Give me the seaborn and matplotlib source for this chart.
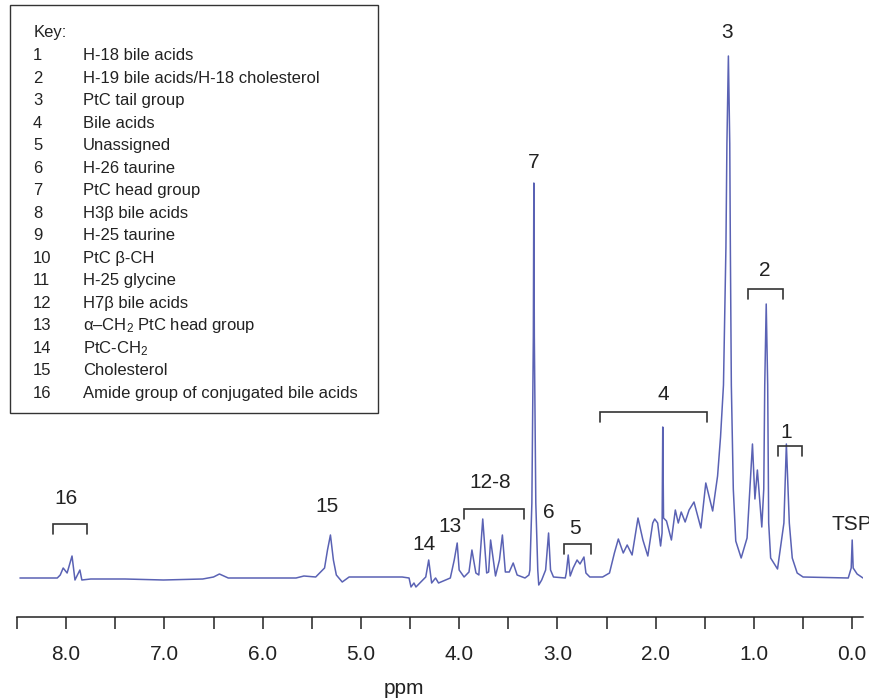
import matplotlib
matplotlib.use("Agg")
import matplotlib.pyplot as plt
import seaborn as sns
import pandas as pd
from matplotlib.patches import Rectangle

# ---------------- data ----------------
# spectrum trace: chemical shift (ppm) and intensity (arbitrary units)
ppm = [8.47, 8.09, 8.06, 8.03, 7.99, 7.94, 7.91, 7.86, 7.84, 7.75, 7.40, 7.01,
       6.61, 6.50, 6.44, 6.35, 5.66, 5.58, 5.46, 5.37, 5.34, 5.31, 5.28, 5.25,
       5.19, 5.12, 4.58, 4.51, 4.49, 4.46, 4.44, 4.39, 4.34, 4.31, 4.28, 4.24,
       4.21, 4.09, 4.05, 4.02, 4.00, 3.95, 3.90, 3.87, 3.83, 3.80, 3.76, 3.72,
       3.70, 3.68, 3.63, 3.59, 3.56, 3.53, 3.49, 3.45, 3.41, 3.33, 3.29, 3.28,
       3.26, 3.245, 3.24, 3.235, 3.22, 3.20, 3.19, 3.16, 3.12, 3.09, 3.07, 3.04,
       2.92, 2.91, 2.89, 2.87, 2.84, 2.80, 2.77, 2.73, 2.71, 2.67, 2.54, 2.47,
       2.42, 2.38, 2.33, 2.29, 2.24, 2.18, 2.13, 2.08, 2.03, 2.01, 1.98, 1.95,
       1.935, 1.928, 1.92, 1.89, 1.84, 1.80, 1.77, 1.74, 1.70, 1.66, 1.61, 1.54,
       1.49, 1.42, 1.37, 1.34, 1.31, 1.285, 1.275, 1.26, 1.246, 1.24, 1.23, 1.21,
       1.185, 1.13, 1.07, 1.015, 0.99, 0.965, 0.92, 0.90, 0.89, 0.875, 0.86, 0.85,
       0.83, 0.76, 0.695, 0.67, 0.64, 0.61, 0.56, 0.50, 0.04, 0.01, 0.0, -0.01,
       -0.05, -0.11]
intensity = [0, 0, 3, 10, 5, 22, -2, 8, -2, -1, -1, -2,
             -1, 1, 4, 0, 0, 2, 1, 10, 28, 43, 18, 3,
             -4, 1, 1, 0, -9, -5, -9, -4, 1, 18, -5, 0,
             -5, 0, 18, 35, 8, 1, 6, 28, 5, 3, 59, 5,
             6, 38, 2, 18, 43, 6, 6, 15, 3, 0, 3, 8,
             75, 242, 395, 242, 75, 8, -7, -2, 8, 45, 8, 1,
             0, 5, 23, 2, 10, 18, 14, 21, 5, 1, 1, 5,
             25, 39, 25, 33, 23, 60, 38, 22, 55, 59, 55, 32,
             45, 151, 60, 57, 38, 68, 55, 66, 56, 68, 76, 50,
             95, 67, 102, 141, 193, 331, 434, 522, 434, 331, 193, 89,
             37, 20, 40, 134, 79, 108, 51, 89, 193, 274, 193, 55,
             20, 9, 55, 134, 55, 20, 5, 1, 0, 10, 38, 10,
             4, 0]

# key entries
key_numbers = ["1", "2", "3", "4", "5", "6", "7", "8", "9", "10", "11", "12",
               "13", "14", "15", "16"]
key_labels = ["H-18 bile acids",
              "H-19 bile acids/H-18 cholesterol",
              "PtC tail group",
              "Bile acids",
              "Unassigned",
              "H-26 taurine",
              "PtC head group",
              "H3\u03b2 bile acids",
              "H-25 taurine",
              "PtC \u03b2-CH",
              "H-25 glycine",
              "H7\u03b2 bile acids",
              "\u03b1\u2013CH$_2$ PtC head group",
              "PtC-CH$_2$",
              "Cholesterol",
              "Amide group of conjugated bile acids"]

# peak labels: text, ppm, intensity level
peak_label_text = ["16", "15", "14", "13", "12-8", "7", "6", "5", "4", "3", "2", "1", "TSP"]
peak_label_ppm = [8.0, 5.34, 4.36, 4.09, 3.68, 3.24, 3.09, 2.82, 1.92, 1.27, 0.885, 0.67, 0.0]
peak_label_level = [79, 72, 33, 51, 96, 416, 66, 50, 183, 545, 307, 146, 53]

# brackets grouping regions: start ppm, end ppm, level
bracket_start = [8.13, 3.95, 2.93, 2.57, 1.06, 0.76]
bracket_end = [7.79, 3.34, 2.66, 1.48, 0.70, 0.51]
bracket_level = [54, 69, 34, 166, 289, 132]

tick_major = [8, 7, 6, 5, 4, 3, 2, 1, 0]
tick_minor = [8.5, 7.5, 6.5, 5.5, 4.5, 3.5, 2.5, 1.5, 0.5]
tick_labels = ["8.0", "7.0", "6.0", "5.0", "4.0", "3.0", "2.0", "1.0", "0.0"]

# ---------------- styling ----------------
sns.set_theme(style="white")
plt.rcParams["font.family"] = ["Liberation Sans", "DejaVu Sans"]
plt.rcParams["mathtext.fontset"] = "custom"
plt.rcParams["mathtext.rm"] = "Liberation Sans"
plt.rcParams["mathtext.it"] = "Liberation Sans:italic"
plt.rcParams["mathtext.default"] = "regular"

W, H = 869, 700
fig = plt.figure(figsize=(W / 100, H / 100), dpi=100)
ax = fig.add_axes([17 / W, (H - 617) / H, 846 / W, 617 / H])

df = pd.DataFrame({"ppm": ppm, "intensity": intensity})
sns.lineplot(data=df, x="ppm", y="intensity", sort=False, estimator=None,
             color="#5a62b4", linewidth=1.1, ax=ax)

ax.set_xlim(8.47, -0.11)
ax.set_ylim(-39, 578)
ax.set_yticks([])
ax.set_ylabel("")
for s in ["left", "right", "top"]:
    ax.spines[s].set_visible(False)
ax.spines["bottom"].set_color("#222222")
ax.spines["bottom"].set_linewidth(1.1)

ax.set_xticks(tick_major)
ax.set_xticklabels(tick_labels, fontsize=15, color="#222222")
ax.set_xticks(tick_minor, minor=True)
ax.tick_params(axis="x", which="both", direction="out", length=8.5, width=1.1,
               color="#222222", bottom=True, pad=12)
ax.set_xlabel("ppm", fontsize=15, color="#222222")
ax.xaxis.set_label_coords((404 - 17) / 846, -0.1)

# peak labels
for t, p, lv in zip(peak_label_text, peak_label_ppm, peak_label_level):
    ax.text(p, lv, t, fontsize=15, ha="center", va="center", color="#222222")

# brackets
leg = 10
for a, b, lv in zip(bracket_start, bracket_end, bracket_level):
    ax.plot([a, a, b, b], [lv - leg, lv, lv, lv - leg], color="#333333",
            linewidth=1.2, solid_joinstyle="miter")

# key box
box = Rectangle((10 / W, 1 - 413 / H), 368 / W, 408 / H, transform=fig.transFigure,
                fill=False, edgecolor="#333333", linewidth=1.0)
fig.patches.append(box)
fig.text(34 / W, 1 - 32 / H, "Key:", fontsize=12, ha="left", va="center", color="#222222")
for i, (n, lab) in enumerate(zip(key_numbers, key_labels)):
    y = 56 + 22.49 * i
    fig.text(33 / W, 1 - y / H, n, fontsize=12, ha="left", va="center", color="#222222")
    fig.text(83 / W, 1 - y / H, lab, fontsize=12, ha="left", va="center", color="#222222")

fig.savefig("out.png", dpi=100)
